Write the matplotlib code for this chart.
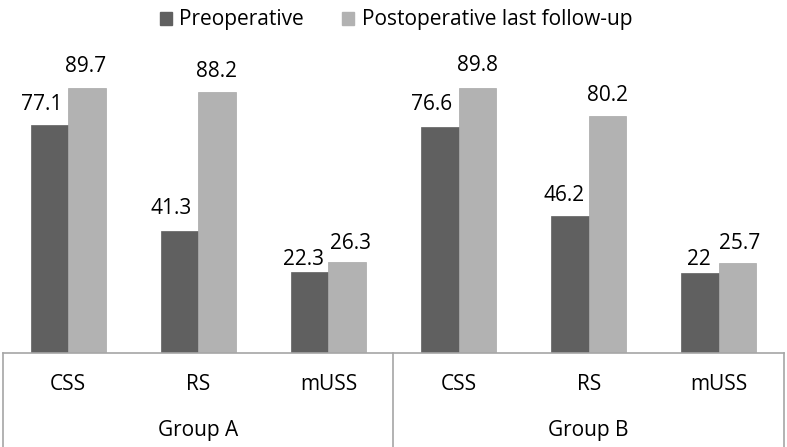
import numpy as np
import matplotlib
matplotlib.use("Agg")
import matplotlib.pyplot as plt
from matplotlib.patches import Patch

groups = ["Group A", "Group B"]
measures = ["CSS", "RS", "mUSS"]
series_names = ["Preoperative", "Postoperative last follow-up"]

# values printed on the bars
preop = [77.1, 41.3, 22.3, 76.6, 46.2, 22]
postop = [89.7, 88.2, 26.3, 89.8, 80.2, 25.7]
# bar heights as drawn in the picture (mUSS bars are drawn taller than their labels)
preop_bar = [77.1, 41.3, 27.4, 76.6, 46.2, 27.0]
postop_bar = [89.7, 88.2, 30.8, 89.8, 80.2, 30.4]

# label nudges in pixels (dx, gap above bar top)
pre_off = [(-8, 15), (-8, 16.5), (-6, 7), (-8, 16.5), (-6, 15), (-1.5, 8)]
post_off = [(-1, 16), (0, 15), (3, 13), (0, 16.5), (0, 15), (1.5, 14)]

dark = "#606060"
light = "#b2b2b2"
line_c = "#a6a6a6"

plt.rcParams['font.family'] = ['Open Sans', 'DejaVu Sans']
fs = 15
px = 0.72  # points per pixel at 100 dpi

fig = plt.figure(figsize=(7.87, 4.47), dpi=100)
ax = fig.add_axes([3 / 787, 94 / 447, 781 / 787, (353 - 57.5) / 447])

x = np.arange(len(preop))
w = 0.288
ax.bar(x - w / 2, preop_bar, w, color=dark, edgecolor=dark, linewidth=0.5)
ax.bar(x + w / 2, postop_bar, w, color=light, edgecolor="#a8a8a8", linewidth=0.5)

# value labels
for xi, h, v, (dx, dy) in zip(x - w / 2, preop_bar, preop, pre_off):
    ax.annotate(f"{v:g}", xy=(xi, h), xytext=(dx * px, dy * px), textcoords="offset points",
                ha="center", va="baseline", fontsize=fs, color="black")
for xi, h, v, (dx, dy) in zip(x + w / 2, postop_bar, postop, post_off):
    ax.annotate(f"{v:g}", xy=(xi, h), xytext=(dx * px, dy * px), textcoords="offset points",
                ha="center", va="baseline", fontsize=fs, color="black")

ax.set_xlim(-0.5, len(preop) - 0.5)
ax.set_ylim(0, 100)
for s in ["top", "left", "right"]:
    ax.spines[s].set_visible(False)
ax.spines["bottom"].set_color(line_c)
ax.spines["bottom"].set_linewidth(1.2)
ax.set_xticks([])
ax.set_yticks([])

# category labels under the axis
cats = measures * len(groups)
for xi, c in zip(x, cats):
    ax.annotate(c, xy=(xi, 0), xycoords=("data", "axes fraction"), xytext=(0, -23),
                textcoords="offset points", ha="center", va="center", fontsize=fs)

# group labels and separators
n = len(measures)
for gi, g in enumerate(groups):
    center = gi * n + (n - 1) / 2
    ax.annotate(g, xy=(center, 0), xycoords=("data", "axes fraction"), xytext=(0, -55.5),
                textcoords="offset points", ha="center", va="center", fontsize=fs)
trans = ax.get_xaxis_transform()
for b in np.arange(len(groups) + 1) * n - 0.5:
    ax.plot([b, b], [0, -0.35], transform=trans, color=line_c, lw=1.2, clip_on=False)

handles = [Patch(facecolor=dark, edgecolor=dark), Patch(facecolor=light, edgecolor=light)]
fig.legend(handles, series_names, loc="center", bbox_to_anchor=(0.503, 1 - 20 / 447),
           ncol=2, frameon=False, fontsize=fs, handlelength=0.6, handleheight=0.6,
           handletextpad=0.35, columnspacing=1.8)

fig.savefig("out.png", dpi=100)
